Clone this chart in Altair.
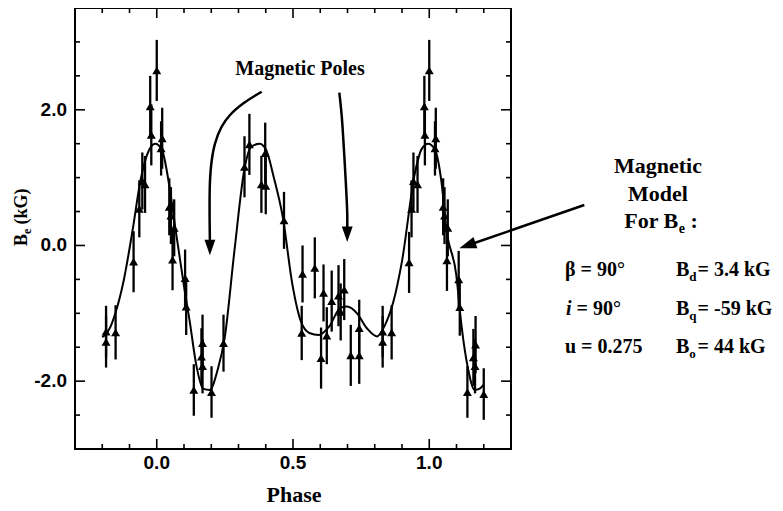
import altair as alt
import pandas as pd

# ---------------- data ----------------
pt_phase = [-0.186, -0.186, -0.151, -0.085, -0.064, -0.053, -0.043, -0.024, -0.020, 0.000,
            0.016, 0.020, 0.046, 0.052, 0.064, 0.058, 0.104, 0.108, 0.136, 0.164,
            0.168, 0.168, 0.201, 0.245, 0.322, 0.340, 0.384, 0.398, 0.400, 0.467,
            0.532, 0.535, 0.580, 0.603, 0.612, 0.624, 0.642, 0.667, 0.675, 0.688,
            0.712, 0.743, 0.743, 0.829, 0.829, 0.862, 0.926, 0.935, 0.942, 0.957,
            0.982, 0.984, 1.000, 1.021, 1.024, 1.051, 1.056, 1.068, 1.065, 1.108,
            1.112, 1.140, 1.162, 1.168, 1.170, 1.200]
pt_be = [-1.27, -1.42, -1.28, -0.24, 0.54, 0.95, 0.90, 2.05, 1.63, 2.58,
         1.43, 1.58, 0.57, 0.44, 0.26, -0.21, -0.48, -0.90, -2.13, -1.64,
         -1.44, -1.78, -2.16, -1.44, 1.16, 1.49, 0.90, 1.36, 0.88, 0.37,
         -1.29, -0.42, -0.33, -1.66, -0.70, -1.33, -0.82, -0.74, -0.98, -0.65,
         -1.62, -1.62, -1.22, -1.27, -1.42, -1.28, -0.25, 0.54, 0.95, 0.90,
         2.05, 1.63, 2.58, 1.43, 1.58, 0.57, 0.44, 0.26, -0.22, -0.50,
         -0.91, -2.16, -1.65, -1.78, -1.46, -2.19]
pt_err = [0.38, 0.38, 0.40, 0.45, 0.42, 0.42, 0.42, 0.45, 0.45, 0.45,
          0.40, 0.45, 0.42, 0.42, 0.42, 0.45, 0.42, 0.42, 0.38, 0.42,
          0.42, 0.40, 0.38, 0.42, 0.45, 0.45, 0.42, 0.45, 0.42, 0.42,
          0.40, 0.42, 0.45, 0.45, 0.42, 0.42, 0.45, 0.45, 0.42, 0.45,
          0.45, 0.42, 0.42, 0.38, 0.38, 0.40, 0.45, 0.42, 0.42, 0.42,
          0.45, 0.45, 0.45, 0.40, 0.45, 0.42, 0.42, 0.42, 0.45, 0.42,
          0.42, 0.38, 0.42, 0.40, 0.42, 0.38]

curve_phase = [-0.200, -0.190, -0.170, -0.152, -0.122, -0.088, -0.061, -0.037, -0.006, 0.018,
               0.048, 0.067, 0.103, 0.121, 0.145, 0.170, 0.194, 0.225, 0.249, 0.285,
               0.322, 0.346, 0.377, 0.400, 0.431, 0.462, 0.498, 0.529, 0.560, 0.595,
               0.632, 0.674, 0.698, 0.735, 0.771, 0.808, 0.838, 0.869, 0.900, 0.948,
               0.972, 0.996, 1.020, 1.045, 1.063, 1.099, 1.118, 1.142, 1.167, 1.185, 1.200]
curve_be = [-1.35, -1.32, -1.20, -1.00, -0.53, 0.24, 0.93, 1.32, 1.50, 1.42,
            0.83, 0.29, -0.68, -1.12, -1.76, -2.11, -2.13, -1.81, -1.37, -0.08,
            1.13, 1.45, 1.50, 1.42, 0.98, 0.43, -0.58, -1.12, -1.29, -1.32,
            -1.20, -0.92, -0.90, -1.00, -1.22, -1.34, -1.17, -0.82, -0.23, 1.08,
            1.42, 1.50, 1.42, 0.93, 0.24, -0.43, -1.17, -1.81, -2.13, -2.11, -2.05]

xticks_major = [0.0, 0.5, 1.0]
x_labels = ["0.0", "0.5", "1.0"]
xticks_minor = [-0.2, -0.1, 0.1, 0.2, 0.3, 0.4, 0.6, 0.7, 0.8, 0.9, 1.1, 1.2]
yticks_major = [-2.0, 0.0, 2.0]
y_labels = ["-2.0", "0.0", "2.0"]
yticks_minor = [-2.5, -1.5, -1.0, -0.5, 0.5, 1.0, 1.5, 2.5, 3.0]

# annotation arrows (in data coordinates)
arrow1_phase = [0.385, 0.318, 0.269, 0.238, 0.214, 0.202, 0.195, 0.195]
arrow1_be = [2.266, 2.095, 1.923, 1.750, 1.506, 1.260, 0.916, 0.051]
arrow2_phase = [0.670, 0.679, 0.687, 0.694, 0.699, 0.699]
arrow2_be = [2.252, 1.898, 1.407, 0.916, 0.474, 0.198]
arrow3_phase = [1.569, 1.150]
arrow3_be = [0.596, 0.014]
heads = [  # phase, be, angle
    (0.195, -0.030, 0),
    (0.699, 0.166, 0),
    (1.140, 0.000, 71),
]

# ---------------- layout ----------------
W, H = 436, 441
OX, OY = 75, 8   # plot origin in page pixels
SERIF = "Liberation Serif"
SANS = "Liberation Sans"
XS = alt.Scale(domain=[-0.3, 1.3], nice=False, zero=False)
YS = alt.Scale(domain=[-3.0, 3.5], nice=False, zero=False)

pts = pd.DataFrame({"phase": pt_phase, "be": pt_be, "err": pt_err})
pts["lo"] = pts["be"] - pts["err"]
pts["hi"] = pts["be"] + pts["err"]
curve = pd.DataFrame({"phase": curve_phase, "be": curve_be})

layers = []

errbars = alt.Chart(pts).mark_rule(color="black", strokeWidth=2.3).encode(
    x=alt.X("phase:Q", scale=XS, axis=None),
    y=alt.Y("lo:Q", scale=YS, axis=None),
    y2="hi:Q",
)
layers.append(errbars)

model = alt.Chart(curve).mark_line(color="black", strokeWidth=2, interpolate="monotone").encode(
    x=alt.X("phase:Q", scale=XS, axis=None),
    y=alt.Y("be:Q", scale=YS, axis=None),
)
layers.append(model)

tris = alt.Chart(pts).mark_point(shape="triangle-up", filled=True, size=80, opacity=1,
                                 color="black").encode(
    x=alt.X("phase:Q", scale=XS, axis=None),
    y=alt.Y("be:Q", scale=YS, axis=None),
)
layers.append(tris)


def tick_layer(vals, axis, length, side):
    df = pd.DataFrame({"t": vals})
    m = alt.Chart(df).mark_rule(color="black", strokeWidth=1.6)
    if axis == "x":
        y0, y1 = (H, H - length) if side == "bottom" else (0, length)
        return m.encode(x=alt.X("t:Q", scale=XS, axis=None), y=alt.value(y0), y2=alt.value(y1))
    x0, x1 = (0, length) if side == "left" else (W, W - length)
    return m.encode(y=alt.Y("t:Q", scale=YS, axis=None), x=alt.value(x0), x2=alt.value(x1))


for side in ("bottom", "top"):
    layers.append(tick_layer(xticks_major, "x", 10, side))
    layers.append(tick_layer(xticks_minor, "x", 5, side))
for side in ("left", "right"):
    layers.append(tick_layer(yticks_major, "y", 10, side))
    layers.append(tick_layer(yticks_minor, "y", 5, side))

# tick labels
xl = pd.DataFrame({"t": xticks_major, "lab": x_labels})
layers.append(alt.Chart(xl).mark_text(font=SANS, fontSize=19, fontWeight="bold", color="black",
                                      baseline="middle", align="center").encode(
    x=alt.X("t:Q", scale=XS, axis=None), y=alt.value(H + 14), text="lab:N"))
yl = pd.DataFrame({"t": yticks_major, "lab": y_labels})
layers.append(alt.Chart(yl).mark_text(font=SANS, fontSize=19, fontWeight="bold", color="black",
                                      baseline="middle", align="right").encode(
    y=alt.Y("t:Q", scale=YS, axis=None), x=alt.value(-8), text="lab:N"))


def arrow_line(ph, be):
    df = pd.DataFrame({"phase": ph, "be": be, "i": list(range(len(ph)))})
    return alt.Chart(df).mark_line(color="black", strokeWidth=2.5, interpolate="catmull-rom",
                                   clip=False).encode(
        x=alt.X("phase:Q", scale=XS, axis=None),
        y=alt.Y("be:Q", scale=YS, axis=None),
        order="i:Q",
    )


layers.append(arrow_line(arrow1_phase, arrow1_be))
layers.append(arrow_line(arrow2_phase, arrow2_be))
layers.append(arrow_line(arrow3_phase, arrow3_be))

HEAD = "M-0.7,-1L0.7,-1L0,1Z"
for hp, hb, ang in heads:
    hdf = pd.DataFrame({"phase": [hp], "be": [hb]})
    layers.append(alt.Chart(hdf).mark_point(shape=HEAD, filled=True, opacity=1, color="black",
                                            size=240 if ang == 0 else 289, angle=ang).encode(
        x=alt.X("phase:Q", scale=XS, axis=None),
        y=alt.Y("be:Q", scale=YS, axis=None),
    ))

ONE = pd.DataFrame({"k": [0]})


def label(s, x, y, size, italic=False, align="left", angle=0, font=SERIF):
    return alt.Chart(ONE).mark_text(text=s, font=font, fontSize=size, fontWeight="bold",
                                    fontStyle="italic" if italic else "normal", align=align,
                                    baseline="alphabetic", angle=angle, color="black").encode(
        x=alt.value(x - OX), y=alt.value(y - OY))


# axis titles
layers.append(label("Phase", 294, 502, 22, align="center"))
layers.append(label("B", 27, 246, 18, angle=270))
layers.append(label("e", 31, 234, 12, angle=270))
layers.append(label("(kG)", 27, 224.5, 18, angle=270))

# annotations
layers.append(label("Magnetic Poles", 300, 75, 20, align="center"))
layers.append(label("Magnetic", 658, 173, 22, align="center"))
layers.append(label("Model", 658, 201, 22, align="center"))
layers.append(label("For B", 624.3, 228, 22))
layers.append(label("e", 678.7, 233, 14))
layers.append(label(":", 690.4, 228, 22))

layers.append(label("\u03b2 = 90\u00b0", 565, 276, 20))
layers.append(label("i", 566, 315, 20, italic=True))
layers.append(label("= 90\u00b0", 576.6, 315, 20))
layers.append(label("u = 0.275", 565, 353, 20))

for row_y, sub, rest in ((276, "d", "= 3.4 kG"), (315, "q", "= -59 kG"), (353, "o", "= 44 kG")):
    layers.append(label("B", 676, row_y, 20))
    layers.append(label(sub, 689.3, row_y + 5, 13))
    layers.append(label(rest, 697.6, row_y, 20))

chart = alt.layer(*layers).properties(
    width=W, height=H,
    padding={"left": 67, "top": 0, "right": 264, "bottom": 62},
    autosize=alt.AutoSizeParams(type="none"),
    background="white",
).configure_view(stroke="black", strokeWidth=2)

chart.save("out.html", embed_options={"renderer": "svg", "actions": False})
